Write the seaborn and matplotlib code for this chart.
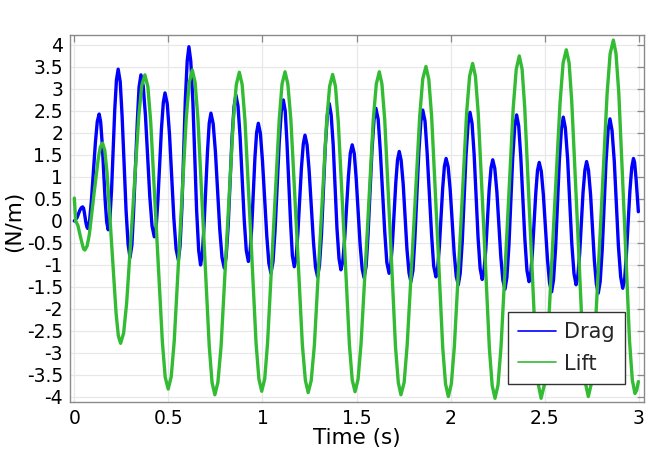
import matplotlib
matplotlib.use("Agg")
import matplotlib.pyplot as plt
from matplotlib.lines import Line2D
from matplotlib.ticker import FormatStrFormatter, MultipleLocator
import seaborn as sns
import pandas as pd

# ---- data ----
drag_time = [
    0.000, 0.015, 0.029, 0.037, 0.044, 0.049, 0.053, 0.062, 0.067, 0.071,
    0.081, 0.091, 0.112, 0.122, 0.132, 0.140, 0.148, 0.164, 0.172, 0.180,
    0.189, 0.198, 0.215, 0.224, 0.233, 0.244, 0.254, 0.275, 0.286, 0.296,
    0.306, 0.315, 0.335, 0.344, 0.354, 0.366, 0.378, 0.401, 0.413, 0.425,
    0.435, 0.444, 0.463, 0.473, 0.482, 0.494, 0.506, 0.529, 0.541, 0.553,
    0.562, 0.572, 0.590, 0.600, 0.609, 0.619, 0.630, 0.650, 0.661, 0.671,
    0.680, 0.689, 0.708, 0.717, 0.726, 0.738, 0.750, 0.773, 0.785, 0.797,
    0.807, 0.818, 0.838, 0.849, 0.859, 0.870, 0.881, 0.903, 0.914, 0.925,
    0.934, 0.943, 0.960, 0.969, 0.978, 0.989, 1.000, 1.023, 1.034, 1.045,
    1.056, 1.067, 1.089, 1.100, 1.111, 1.121, 1.130, 1.150, 1.159, 1.169,
    1.179, 1.188, 1.207, 1.217, 1.226, 1.237, 1.248, 1.271, 1.282, 1.293,
    1.303, 1.314, 1.334, 1.345, 1.355, 1.365, 1.376, 1.396, 1.407, 1.417,
    1.427, 1.437, 1.457, 1.467, 1.477, 1.488, 1.498, 1.519, 1.530, 1.540,
    1.551, 1.561, 1.582, 1.593, 1.603, 1.615, 1.626, 1.650, 1.661, 1.673,
    1.682, 1.691, 1.709, 1.718, 1.727, 1.737, 1.748, 1.768, 1.779, 1.789,
    1.800, 1.810, 1.831, 1.842, 1.852, 1.864, 1.875, 1.899, 1.910, 1.922,
    1.931, 1.940, 1.958, 1.967, 1.976, 1.987, 1.998, 2.019, 2.030, 2.041,
    2.051, 2.062, 2.082, 2.093, 2.103, 2.114, 2.125, 2.146, 2.157, 2.168,
    2.177, 2.187, 2.205, 2.215, 2.224, 2.235, 2.246, 2.267, 2.278, 2.289,
    2.299, 2.310, 2.330, 2.341, 2.351, 2.362, 2.373, 2.395, 2.406, 2.417,
    2.426, 2.435, 2.453, 2.462, 2.471, 2.482, 2.493, 2.515, 2.526, 2.537,
    2.547, 2.558, 2.578, 2.589, 2.599, 2.610, 2.622, 2.644, 2.656, 2.667,
    2.676, 2.686, 2.704, 2.714, 2.723, 2.733, 2.744, 2.764, 2.775, 2.785,
    2.795, 2.806, 2.826, 2.837, 2.847, 2.858, 2.870, 2.892, 2.904, 2.915,
    2.925, 2.934, 2.953, 2.963, 2.972, 2.978, 2.986, 2.998,
]
drag_force = [
    0.00, 0.08, 0.24, 0.30, 0.32, 0.29, 0.20, -0.05, -0.14, -0.17,
    0.00, 0.48, 1.78, 2.26, 2.43, 2.25, 1.77, 0.46, -0.02, -0.20,
    0.04, 0.71, 2.54, 3.21, 3.45, 3.16, 2.38, 0.24, -0.54, -0.83,
    -0.55, 0.21, 2.28, 3.04, 3.32, 3.07, 2.40, 0.56, -0.11, -0.36,
    -0.14, 0.46, 2.09, 2.69, 2.91, 2.66, 1.96, 0.06, -0.64, -0.89,
    -0.57, 0.32, 2.75, 3.64, 3.96, 3.63, 2.72, 0.24, -0.67, -1.00,
    -0.77, -0.14, 1.59, 2.22, 2.45, 2.21, 1.57, -0.19, -0.83, -1.07,
    -0.81, -0.09, 1.88, 2.60, 2.86, 2.61, 1.92, 0.03, -0.67, -0.92,
    -0.71, -0.14, 1.44, 2.01, 2.22, 1.99, 1.37, -0.34, -0.96, -1.19,
    -0.93, -0.21, 1.77, 2.49, 2.75, 2.50, 1.80, -0.09, -0.79, -1.04,
    -0.84, -0.29, 1.20, 1.75, 1.95, 1.73, 1.15, -0.47, -1.05, -1.27,
    -1.01, -0.29, 1.69, 2.41, 2.67, 2.42, 1.73, -0.17, -0.86, -1.11,
    -0.92, -0.40, 1.02, 1.54, 1.73, 1.53, 0.98, -0.54, -1.09, -1.29,
    -1.03, -0.33, 1.60, 2.30, 2.56, 2.31, 1.62, -0.25, -0.94, -1.19,
    -1.00, -0.50, 0.89, 1.39, 1.58, 1.38, 0.84, -0.64, -1.18, -1.38,
    -1.12, -0.41, 1.55, 2.26, 2.52, 2.27, 1.57, -0.32, -1.02, -1.27,
    -1.09, -0.60, 0.75, 1.24, 1.42, 1.23, 0.70, -0.73, -1.26, -1.45,
    -1.19, -0.47, 1.49, 2.21, 2.47, 2.22, 1.52, -0.38, -1.08, -1.33,
    -1.15, -0.65, 0.71, 1.21, 1.39, 1.19, 0.66, -0.82, -1.35, -1.55,
    -1.29, -0.56, 1.42, 2.15, 2.41, 2.16, 1.46, -0.43, -1.13, -1.38,
    -1.20, -0.70, 0.65, 1.15, 1.33, 1.13, 0.60, -0.88, -1.41, -1.61,
    -1.34, -0.62, 1.37, 2.09, 2.36, 2.11, 1.41, -0.50, -1.20, -1.45,
    -1.26, -0.75, 0.65, 1.16, 1.35, 1.15, 0.60, -0.89, -1.44, -1.64,
    -1.38, -0.65, 1.33, 2.06, 2.32, 2.06, 1.36, -0.57, -1.27, -1.53,
    -1.33, -0.79, 0.68, 1.22, 1.42, 1.33, 0.95, 0.21,
]

lift_time = [
    0.000, 0.007, 0.019, 0.031, 0.044, 0.050, 0.056, 0.068, 0.080, 0.103,
    0.127, 0.138, 0.150, 0.162, 0.174, 0.198, 0.222, 0.234, 0.246, 0.262,
    0.278, 0.311, 0.343, 0.359, 0.375, 0.391, 0.406, 0.437, 0.468, 0.483,
    0.499, 0.515, 0.531, 0.563, 0.595, 0.611, 0.627, 0.642, 0.657, 0.687,
    0.717, 0.732, 0.747, 0.763, 0.780, 0.812, 0.845, 0.861, 0.877, 0.892,
    0.907, 0.937, 0.966, 0.981, 0.996, 1.012, 1.027, 1.058, 1.089, 1.104,
    1.120, 1.135, 1.151, 1.182, 1.212, 1.228, 1.243, 1.259, 1.276, 1.308,
    1.341, 1.357, 1.373, 1.388, 1.403, 1.433, 1.462, 1.477, 1.492, 1.508,
    1.524, 1.557, 1.589, 1.605, 1.621, 1.635, 1.650, 1.679, 1.707, 1.722,
    1.736, 1.753, 1.769, 1.803, 1.836, 1.852, 1.869, 1.884, 1.899, 1.929,
    1.958, 1.973, 1.988, 2.004, 2.020, 2.053, 2.085, 2.101, 2.117, 2.132,
    2.147, 2.177, 2.206, 2.221, 2.236, 2.252, 2.268, 2.301, 2.333, 2.349,
    2.365, 2.380, 2.394, 2.423, 2.452, 2.467, 2.481, 2.498, 2.515, 2.548,
    2.582, 2.598, 2.615, 2.630, 2.644, 2.674, 2.703, 2.717, 2.732, 2.749,
    2.765, 2.799, 2.832, 2.848, 2.865, 2.879, 2.894, 2.923, 2.951, 2.966,
    2.980, 2.989, 2.998,
]
lift_force = [
    0.52, 0.00, -0.10, -0.33, -0.56, -0.64, -0.66, -0.57, -0.30, 0.56,
    1.41, 1.68, 1.77, 1.60, 1.09, -0.51, -2.10, -2.61, -2.78, -2.55,
    -1.87, 0.27, 2.41, 3.09, 3.32, 3.05, 2.25, -0.25, -2.75, -3.55,
    -3.82, -3.54, -2.73, -0.20, 2.34, 3.15, 3.43, 3.15, 2.32, -0.26,
    -2.84, -3.67, -3.95, -3.67, -2.85, -0.29, 2.28, 3.10, 3.38, 3.10,
    2.29, -0.25, -2.78, -3.59, -3.87, -3.59, -2.78, -0.24, 2.30, 3.11,
    3.39, 3.11, 2.30, -0.26, -2.81, -3.62, -3.90, -3.63, -2.82, -0.29,
    2.25, 3.06, 3.33, 3.06, 2.25, -0.28, -2.80, -3.61, -3.88, -3.60,
    -2.79, -0.25, 2.30, 3.11, 3.39, 3.11, 2.29, -0.28, -2.85, -3.67,
    -3.95, -3.67, -2.83, -0.22, 2.39, 3.23, 3.51, 3.22, 2.39, -0.24,
    -2.87, -3.70, -3.99, -3.70, -2.85, -0.21, 2.44, 3.29, 3.58, 3.29,
    2.44, -0.23, -2.89, -3.74, -4.03, -3.73, -2.86, -0.14, 2.58, 3.45,
    3.75, 3.45, 2.58, -0.14, -2.86, -3.73, -4.03, -3.73, -2.84, -0.07,
    2.70, 3.59, 3.89, 3.59, 2.71, -0.05, -2.81, -3.69, -3.99, -3.68,
    -2.78, 0.06, 2.90, 3.80, 4.11, 3.81, 2.91, 0.10, -2.72, -3.62,
    -3.92, -3.85, -3.65,
]
assert len(drag_time) == len(drag_force)
assert len(lift_time) == len(lift_force)

series_names = ["Drag", "Lift"]
series_colors = ["#0000ff", "#33bb33"]
x_ticks = [0, 0.5, 1, 1.5, 2, 2.5, 3]
x_label = "Time (s)"
y_label = "(N/m)"

# ---- build long-form table ----
df = pd.concat([
    pd.DataFrame({"Time": drag_time, "Value": drag_force, "Series": series_names[0]}),
    pd.DataFrame({"Time": lift_time, "Value": lift_force, "Series": series_names[1]}),
], ignore_index=True)

sns.set_theme(style="white")
plt.rcParams["font.family"] = ["DejaVu Sans"]
plt.rcParams["axes.unicode_minus"] = False

W, H = 662, 467
fig = plt.figure(figsize=(W / 100, H / 100), dpi=100)
ax = fig.add_axes([70 / W, 1 - 402 / H, 574 / W, 367 / H])

palette = dict(zip(series_names, series_colors))
sns.lineplot(data=df, x="Time", y="Value", hue="Series", palette=palette,
             estimator=None, sort=False, linewidth=2.4, legend=False, ax=ax)
for ln in ax.get_lines():
    ln.set_solid_joinstyle("round")
    ln.set_solid_capstyle("round")

ax.set_xlim(-0.023, 3.028)
ax.set_ylim(-4.114, 4.226)
ax.set_xticks(x_ticks)
ax.yaxis.set_major_locator(MultipleLocator(0.5))
ax.xaxis.set_major_formatter(FormatStrFormatter("%g"))
ax.yaxis.set_major_formatter(FormatStrFormatter("%g"))

ax.grid(True, color="#e8e8e8", linewidth=0.9)
ax.set_axisbelow(True)
for sp in ax.spines.values():
    sp.set_color("#8a8a8a")
    sp.set_linewidth(1.0)
ax.tick_params(direction="in", length=5, width=0.9, color="#8a8a8a",
               top=True, right=True, labelsize=13.5, labelcolor="black", pad=5)

ax.set_xlabel(x_label, fontsize=15.5, color="black")
ax.set_ylabel(y_label, fontsize=15.5, color="black")
ax.xaxis.set_label_coords(0.5, -0.072)
ax.yaxis.set_label_coords(-0.080, 0.493)

handles = [Line2D([0], [0], color=c, linewidth=1.2) for c in series_colors]
leg = ax.legend(handles, series_names, loc="lower right",
                bbox_to_anchor=(0.967, 0.049), borderaxespad=0,
                fontsize=15, frameon=True, fancybox=False, framealpha=1,
                edgecolor="#333333", handlelength=1.8, handletextpad=0.4,
                borderpad=0.5, labelspacing=0.55)
leg.get_frame().set_linewidth(1.0)

fig.savefig("out.png", dpi=100)
